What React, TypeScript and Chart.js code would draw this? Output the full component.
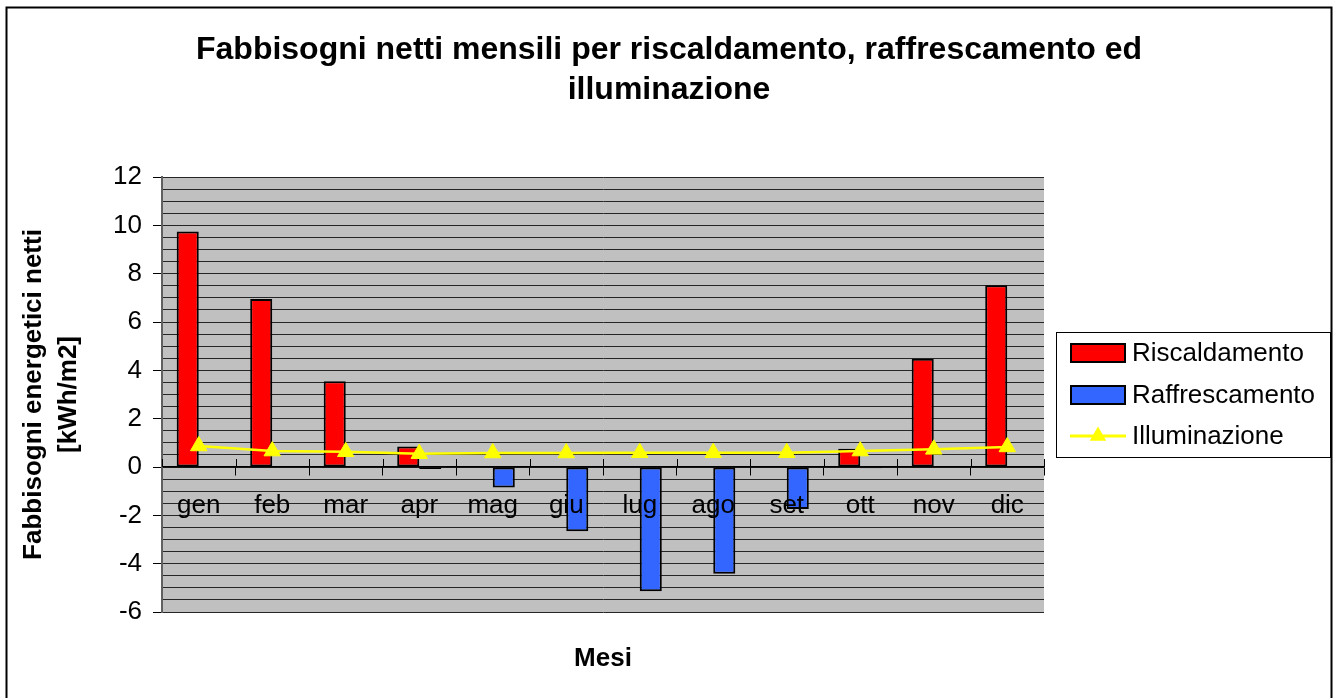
import React, { useEffect, useRef } from "react";
import { Chart, registerables } from "chart.js";

Chart.register(...registerables);

const months = ["gen", "feb", "mar", "apr", "mag", "giu", "lug", "ago", "set", "ott", "nov", "dic"];
const riscaldamento = [9.75, 6.95, 3.55, 0.85, 0, 0, 0, 0, 0, 0.76, 4.48, 7.52];
const raffrescamento = [0, 0, 0, -0.08, -0.85, -2.66, -5.14, -4.42, -1.74, -0.05, 0, 0];
const illuminazione = [0.87, 0.66, 0.63, 0.55, 0.58, 0.58, 0.59, 0.59, 0.59, 0.66, 0.73, 0.83];

const yMin = -6;
const yMax = 12;
const yLabelStep = 2;
const yGridStep = 0.5;

const titleLines = ["Fabbisogni netti mensili per riscaldamento, raffrescamento ed", "illuminazione"];
const yTitleLines = ["Fabbisogni energetici netti", "[kWh/m2]"];
const xTitle = "Mesi";
const seriesNames = ["Riscaldamento", "Raffrescamento", "Illuminazione"];

const FONT = '"Liberation Sans", Arial, sans-serif';
const RED = "#FF0000";
const BLUE = "#3366FF";
const YELLOW = "#FFFF00";

function drawTriangle(ctx: CanvasRenderingContext2D, x: number, y: number, r: number) {
  ctx.beginPath();
  ctx.moveTo(x, y - r);
  ctx.lineTo(x + r * Math.cos(Math.PI / 6), y + r * 0.5);
  ctx.lineTo(x - r * Math.cos(Math.PI / 6), y + r * 0.5);
  ctx.closePath();
  ctx.fill();
}

const decorPlugin = {
  id: "decor",
  beforeDraw(chart: any) {
    const { ctx, chartArea: a } = chart;
    ctx.save();
    ctx.fillStyle = "#FFFFFF";
    ctx.fillRect(0, 0, chart.width, chart.height);
    ctx.fillStyle = "#C0C0C0";
    ctx.fillRect(a.left, a.top, a.right - a.left, a.bottom - a.top);
    ctx.restore();
  },
  afterDraw(chart: any) {
    const { ctx, chartArea: a } = chart;
    const xs = chart.scales.x;
    const ys = chart.scales.y;
    ctx.save();

    // upper half of the category tick marks (cross ticks)
    const y0 = Math.round(ys.getPixelForValue(0));
    const half = (xs.getPixelForValue(1) - xs.getPixelForValue(0)) / 2;
    ctx.strokeStyle = "#000";
    ctx.lineWidth = 1;
    for (let i = 0; i <= months.length; i++) {
      const px = Math.round(xs.getPixelForValue(i) - half) + 0.5;
      ctx.beginPath();
      ctx.moveTo(px, y0 - 8);
      ctx.lineTo(px, y0);
      ctx.stroke();
    }

    // title
    ctx.fillStyle = "#000";
    ctx.textAlign = "center";
    ctx.textBaseline = "alphabetic";
    ctx.font = `bold 32px ${FONT}`;
    ctx.fillText(titleLines[0], 669, 59);
    ctx.fillText(titleLines[1], 669, 99);

    // x title
    ctx.font = `bold 26px ${FONT}`;
    ctx.fillText(xTitle, (a.left + a.right) / 2, 666);

    // y title
    const cy = (a.top + a.bottom) / 2;
    ctx.save();
    ctx.translate(41, cy);
    ctx.rotate(-Math.PI / 2);
    ctx.fillText(yTitleLines[0], 0, 0);
    ctx.restore();
    ctx.save();
    ctx.translate(76, cy);
    ctx.rotate(-Math.PI / 2);
    ctx.fillText(yTitleLines[1], 0, 0);
    ctx.restore();

    // legend
    const lx = 1056, ly = 332, lw = 274, lh = 125;
    ctx.strokeStyle = "#000";
    ctx.lineWidth = 1;
    ctx.strokeRect(lx + 0.5, ly + 0.5, lw, lh);
    const rows = [353, 395, 436];
    const colors = [RED, BLUE];
    ctx.font = `26px ${FONT}`;
    ctx.textAlign = "left";
    ctx.textBaseline = "middle";
    for (let i = 0; i < 3; i++) {
      const ry = rows[i];
      if (i < 2) {
        ctx.fillStyle = colors[i];
        ctx.fillRect(1071, ry - 9, 54, 18);
        ctx.strokeStyle = "#000";
        ctx.lineWidth = 2;
        ctx.strokeRect(1071, ry - 9, 54, 18);
      } else {
        ctx.strokeStyle = YELLOW;
        ctx.lineWidth = 3;
        ctx.beginPath();
        ctx.moveTo(1070, ry);
        ctx.lineTo(1126, ry);
        ctx.stroke();
        ctx.fillStyle = YELLOW;
        drawTriangle(ctx, 1098, ry, 9.5);
      }
      ctx.fillStyle = "#000";
      ctx.fillText(seriesNames[i], 1132, ry + 1);
    }

    // outer border
    ctx.strokeStyle = "#000";
    ctx.lineWidth = 2;
    ctx.strokeRect(6.5, 7.5, 1325, 720);
    ctx.restore();
  },
};

export default function App() {
  const ref = useRef<HTMLCanvasElement>(null);
  useEffect(() => {
    const canvas = ref.current;
    if (!canvas) return;
    const chart = new Chart(canvas, {
      type: "bar",
      data: {
        labels: months,
        datasets: [
          {
            type: "line",
            label: seriesNames[2],
            data: illuminazione,
            borderColor: YELLOW,
            backgroundColor: YELLOW,
            borderWidth: 2.5,
            pointStyle: "triangle",
            pointRadius: 9.5,
            pointBackgroundColor: YELLOW,
            pointBorderColor: YELLOW,
            pointBorderWidth: 1,
            tension: 0,
            order: 0,
          } as any,
          {
            type: "bar",
            label: seriesNames[0],
            data: riscaldamento,
            backgroundColor: RED,
            borderColor: "#000",
            borderWidth: 2,
            borderSkipped: false,
            categoryPercentage: 0.6,
            barPercentage: 1,
            order: 1,
          },
          {
            type: "bar",
            label: seriesNames[1],
            data: raffrescamento,
            backgroundColor: BLUE,
            borderColor: "#000",
            borderWidth: 2,
            borderSkipped: false,
            categoryPercentage: 0.6,
            barPercentage: 1,
            order: 1,
          },
        ],
      },
      options: {
        responsive: false,
        devicePixelRatio: 1,
        animation: false,
        layout: { padding: { top: 177, bottom: 86, left: 0, right: 291 } },
        plugins: {
          legend: { display: false },
          title: { display: false },
          tooltip: { enabled: false },
        },
        scales: {
          x: {
            position: { y: 0 } as any,
            offset: true,
            grid: {
              display: true,
              drawOnChartArea: false,
              drawTicks: true,
              tickLength: 8,
              color: "#000",
              offset: true,
            },
            border: { display: true, color: "#000", width: 1.5 },
            ticks: {
              z: 1,
              color: "#000",
              font: { family: FONT, size: 26 },
              padding: 15,
              autoSkip: false,
              maxRotation: 0,
            },
          },
          y: {
            min: yMin,
            max: yMax,
            afterFit: (s: any) => {
              s.width = 162;
            },
            grid: {
              color: "#262626",
              lineWidth: 1,
              drawTicks: true,
              tickLength: 9,
              tickColor: (c: any) =>
                c.tick && c.tick.value % yLabelStep === 0 ? "#000" : "rgba(0,0,0,0)",
            },
            border: { display: true, color: "#606060", width: 2 },
            ticks: {
              stepSize: yGridStep,
              maxTicksLimit: 100,
              autoSkip: false,
              color: "#000",
              padding: 11,
              font: { family: FONT, size: 26 },
              callback: (v: any) => (Number(v) % yLabelStep === 0 ? String(v) : ""),
            },
          },
        },
      },
      plugins: [decorPlugin],
    });
    return () => chart.destroy();
  }, []);
  return (
    <div style={{ position: "absolute", left: 0, top: 0, width: 1335, height: 698 }}>
      <canvas ref={ref} width={1335} height={698} style={{ display: "block", width: 1335, height: 698 }} />
    </div>
  );
}
